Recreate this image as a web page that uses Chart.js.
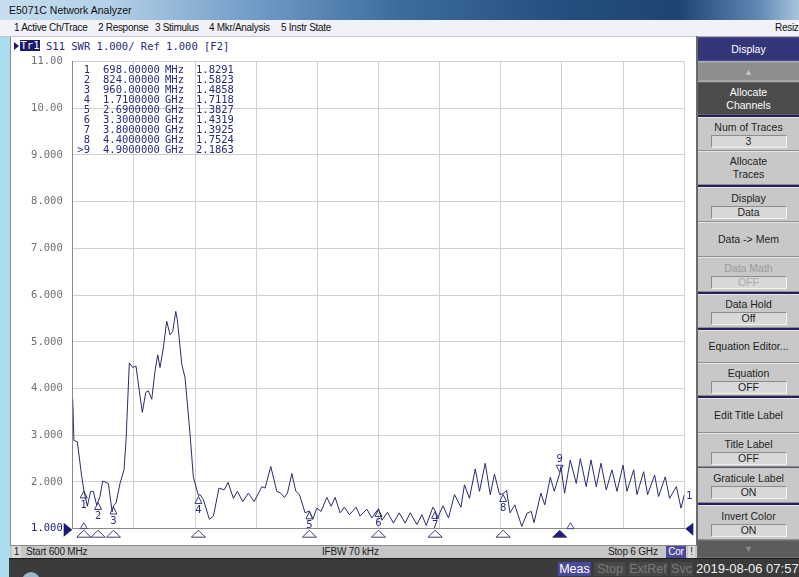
<!DOCTYPE html>
<html>
<head>
<meta charset="utf-8">
<script src="https://cdn.jsdelivr.net/npm/chart.js@4.4.0/dist/chart.umd.min.js"></script>
<style>
  body { margin: 0; width: 799px; height: 577px; overflow: hidden; position: relative;
         background: #a9dcee; font-family: "Liberation Sans", Arial, sans-serif; }
  .abs { position: absolute; white-space: nowrap; }
  #titlebar { left: 0; top: 0; width: 799px; height: 20px;
    background: linear-gradient(90deg, #c6deef 0%, #b4cfe7 14%, #6f9bc6 32%, #3d6c9c 50%, #244f7e 70%, #1d4573 85%, #5f8ab4 95%, #a9c5df 100%);
    font-size: 10.5px; line-height: 20px; color: #111; }
  #menubar { left: 0; top: 20px; width: 799px; height: 16px; background: #f1f2f7;
    border-bottom: 1px solid #c4c7d0; font-size: 10px; letter-spacing: -0.3px; line-height: 16px; color: #111; }
  #chartwin { left: 10px; top: 37px; width: 686px; height: 508px; background: #fff;
    border-left: 1px solid #8e8e8e; }
  #chartbox { left: 12px; top: 36px; width: 684px; height: 509px; }
  #hdr { font-family: "DejaVu Sans Mono", monospace; font-size: 10.5px; color: #2a2a7c; }
  #status { left: 10px; top: 545px; width: 687px; height: 12px; background: #c6c6c6;
    border-top: 1px solid #8a8a8a; font-size: 10px; letter-spacing: -0.2px; line-height: 12px; color: #1c1c1c; }
  #bottombar { left: 9px; top: 558px; width: 790px; height: 19px; background: #3b3b3b;
    border-top: 1px solid #1e1e1e; }
  .sk { position: absolute; left: 698px; width: 101px; background: #c8c8c8; box-sizing: border-box;
    border-top: 1px solid #e6e6e6; border-bottom: 1px solid #8e8e8e; text-align: center;
    font-size: 10.5px; color: #1e1e1e; line-height: 13px; }
  .sk .v { margin: 1px auto 0; width: 74px; height: 11px; line-height: 11px; background: #d8d8d8;
    border: 1px solid; border-color: #8c8c8c #f2f2f2 #f2f2f2 #8c8c8c; }
  .sep { position: absolute; left: 698px; width: 101px; height: 2px; background: #23235a; }
</style>
</head>
<body>
<div id="titlebar" class="abs"><span style="position:absolute;left:9px">E5071C Network Analyzer</span></div>
<div id="menubar" class="abs">
  <span class="abs" style="left:14px">1 Active Ch/Trace</span>
  <span class="abs" style="left:98px">2 Response</span>
  <span class="abs" style="left:155px">3 Stimulus</span>
  <span class="abs" style="left:209px">4 Mkr/Analysis</span>
  <span class="abs" style="left:281px">5 Instr State</span>
  <span class="abs" style="left:775px">Resize</span>
</div>
<div id="chartwin" class="abs"></div>

<div id="hdr" class="abs" style="left:13px;top:40px;height:12px;line-height:12px">
  <span class="abs" style="left:1px;top:2px;width:0;height:0;border-top:4px solid transparent;border-bottom:4px solid transparent;border-left:5px solid #1c1c6e"></span>
  <span class="abs" style="left:7px;top:0;width:20px;height:11px;background:#1c1c6e;color:#fff;text-align:center;line-height:11px">Tr1</span>
  <span class="abs" style="left:33px;top:0">S11 SWR 1.000/ Ref 1.000 [F2]</span>
</div>

<div id="chartbox" class="abs"><canvas id="plot"></canvas></div>

<!-- softkey panel -->
<div class="abs" style="left:696px;top:36px;width:103px;height:522px;background:#a8a8a8;border-left:2px solid #6a6a6a;box-sizing:border-box"></div>
<div class="sk" style="top:37px;height:24px;line-height:22px;background:#35357a;color:#fff;border-color:#4a4a90 #1e1e50">Display</div>
<div class="sk" style="top:62px;height:19px;background:#8e8e8e;border-color:#a4a4a4 #707070;color:#c4c4c4;font-size:9px;line-height:18px">&#9650;</div>
<div class="sk" style="top:82px;height:33px;padding-top:3px;background:#4c4c4c;color:#fff;border-color:#666 #333">Allocate<br>Channels</div>
<div class="sep" style="top:115px"></div>
<div class="sk" style="top:117px;height:34px;padding-top:3px">Num of Traces<div class="v">3</div></div>
<div class="sk" style="top:151px;height:34px;padding-top:3px">Allocate<br>Traces</div>
<div class="sep" style="top:185px"></div>
<div class="sk" style="top:187px;height:35px;padding-top:4px">Display<div class="v">Data</div></div>
<div class="sk" style="top:222px;height:35px;line-height:33px">Data -&gt; Mem</div>
<div class="sk" style="top:257px;height:35px;padding-top:4px;color:#9a9a9a">Data Math<div class="v" style="color:#a8a8a8">OFF</div></div>
<div class="sep" style="top:292px"></div>
<div class="sk" style="top:294px;height:34px;padding-top:3px">Data Hold<div class="v">Off</div></div>
<div class="sep" style="top:328px"></div>
<div class="sk" style="top:330px;height:33px;line-height:31px">Equation Editor...</div>
<div class="sk" style="top:363px;height:33px;padding-top:3px">Equation<div class="v">OFF</div></div>
<div class="sep" style="top:396px"></div>
<div class="sk" style="top:398px;height:35px;line-height:33px">Edit Title Label</div>
<div class="sk" style="top:433px;height:34px;padding-top:4px">Title Label<div class="v">OFF</div></div>
<div class="sk" style="top:467px;height:36px;padding-top:4px;border-top:1px solid #55556a">Graticule Label<div class="v">ON</div></div>
<div class="sep" style="top:503px"></div>
<div class="sk" style="top:505px;height:35px;padding-top:4px">Invert Color<div class="v">ON</div></div>
<div class="sk" style="top:540px;height:18px;background:#5c5c5c;border-color:#707070 #444;color:#8a8a8a;font-size:9px;line-height:17px">&#9660;</div>

<!-- status bar -->
<div id="status" class="abs">
  <span class="abs" style="left:2px;top:0;width:9px;height:12px;background:#d9d9d9;text-align:center">1</span>
  <span class="abs" style="left:16px">Start 600 MHz</span>
  <span class="abs" style="left:312px">IFBW 70 kHz</span>
  <span class="abs" style="left:598px">Stop 6 GHz</span>
  <span class="abs" style="left:656px;top:0;width:20px;height:12px;background:#4b4b96;color:#fff;text-align:center">Cor</span>
  <span class="abs" style="left:678px;top:0;width:7px;height:12px;background:#dcdcdc;text-align:center">!</span>
</div>

<div id="bottombar" class="abs">
  <div class="abs" style="left:13px;top:13px;width:18px;height:18px;border-radius:50%;background:#9cb9cc"></div>
  <span class="abs" style="left:549px;top:3px;width:33px;height:14px;background:#4a4a9c;color:#fff;font-size:12.5px;line-height:14px;text-align:center">Meas</span>
  <span class="abs" style="left:585px;top:3px;width:32px;height:14px;background:#474747;color:#7a7a7a;font-size:12.5px;line-height:14px;text-align:center">Stop</span>
  <span class="abs" style="left:619px;top:3px;width:40px;height:14px;background:#474747;color:#7a7a7a;font-size:12.5px;line-height:14px;text-align:center">ExtRef</span>
  <span class="abs" style="left:661px;top:3px;width:23px;height:14px;background:#474747;color:#7a7a7a;font-size:12.5px;line-height:14px;text-align:center">Svc</span>
  <span class="abs" style="left:687px;top:2px;color:#f0f0f0;font-size:13px;line-height:16px">2019-08-06 07:57</span>
</div>

<script>
// S11 SWR trace, frequency in MHz
const freqMHz = [600, 611, 641, 680, 698, 729, 759, 782, 812, 824, 841, 865, 915, 948, 960, 983,
  1018, 1053, 1071, 1100, 1130, 1159, 1188, 1215, 1245, 1268, 1298, 1327, 1351, 1371, 1400, 1430,
  1460, 1483, 1510, 1524, 1563, 1592, 1636, 1665, 1710, 1725, 1754, 1807, 1842, 1892, 1937, 1972,
  2019, 2054, 2102, 2151, 2202, 2270, 2299, 2349, 2402, 2437, 2469, 2496, 2535, 2570, 2602, 2652,
  2690, 2720, 2755, 2793, 2844, 2882, 2917, 2961, 2999, 3043, 3103, 3138, 3197, 3241, 3300, 3330,
  3379, 3432, 3483, 3535, 3580, 3639, 3683, 3721, 3780, 3800, 3816, 3869, 3918, 3971, 4028, 4059,
  4103, 4154, 4192, 4242, 4287, 4324, 4369, 4400, 4431, 4461, 4503, 4565, 4611, 4649, 4673, 4734,
  4768, 4817, 4852, 4900, 4911, 4943, 4993, 5046, 5082, 5134, 5176, 5223, 5264, 5311, 5361, 5406,
  5459, 5494, 5553, 5582, 5641, 5676, 5738, 5773, 5832, 5870, 5930, 5971, 6000];
const swr = [3.77, 2.89, 2.86, 2.11, 1.83, 1.48, 1.80, 1.80, 1.50, 1.58, 1.69, 2.02, 1.97, 1.36, 1.49, 1.55,
  1.97, 2.26, 2.89, 4.55, 4.45, 4.48, 3.95, 3.49, 3.92, 3.95, 3.77, 4.38, 4.72, 4.45, 4.87, 5.44,
  5.15, 5.22, 5.65, 5.47, 4.52, 4.23, 3.03, 2.11, 1.71, 1.73, 1.62, 1.20, 1.27, 1.87, 1.83, 1.99,
  1.65, 1.80, 1.58, 1.76, 1.58, 1.90, 1.87, 2.33, 1.80, 1.76, 1.67, 1.76, 2.18, 1.80, 1.73, 1.34,
  1.38, 1.20, 1.44, 1.37, 1.67, 1.48, 1.67, 1.34, 1.46, 1.30, 1.46, 1.27, 1.42, 1.23, 1.43, 1.18,
  1.35, 1.12, 1.34, 1.12, 1.34, 1.09, 1.30, 1.07, 1.46, 1.39, 1.20, 1.49, 1.23, 1.73, 1.46, 1.94,
  1.65, 2.28, 1.80, 2.40, 1.73, 2.17, 1.73, 1.75, 1.82, 1.34, 1.51, 1.05, 1.33, 1.37, 1.13, 1.76,
  1.51, 2.10, 1.80, 2.19, 2.33, 1.76, 2.47, 1.97, 2.50, 1.90, 2.47, 1.90, 2.40, 1.83, 2.26, 1.80,
  2.36, 1.80, 2.26, 1.73, 2.22, 1.73, 2.15, 1.69, 2.11, 1.65, 1.90, 1.44, 1.73];

// markers
const markerNames = ["1", "2", "3", "4", "5", "6", "7", "8", ">9"];
const markerFreqMHz = [698, 824, 960, 1710, 2690, 3300, 3800, 4400, 4900];
const markerSWR = [1.8291, 1.5823, 1.4858, 1.7118, 1.3827, 1.4319, 1.3925, 1.7524, 2.1863];
const activeMarker = 8;
const smallTriMHz = [698, 4995];

// axes
const xGridMHz = [600, 1140, 1680, 2220, 2760, 3300, 3840, 4380, 4920, 5460, 6000];
const yMin = 1, yMax = 11, yStep = 1;

const navy = "#2a2a7c";
const traceColor = "#2b2b6e";
const ORG_X = 12, ORG_Y = 36; // canvas origin on the page

function fmtFreq(f) {
  return f < 1000 ? f.toFixed(5) + " MHz" : (f / 1000).toFixed(7) + " GHz";
}

function tri(ctx, cx, tipY, w, h, up, fill) {
  ctx.beginPath();
  if (up) {
    ctx.moveTo(cx, tipY); ctx.lineTo(cx - w / 2, tipY + h); ctx.lineTo(cx + w / 2, tipY + h);
  } else {
    ctx.moveTo(cx, tipY); ctx.lineTo(cx - w / 2, tipY - h); ctx.lineTo(cx + w / 2, tipY - h);
  }
  ctx.closePath();
  if (fill) { ctx.fillStyle = fill; ctx.fill(); }
  ctx.stroke();
}

const overlay = {
  id: "overlay",
  afterDraw(chart) {
    const ctx = chart.ctx;
    const xs = chart.scales.x, ys = chart.scales.y, a = chart.chartArea;
    ctx.save();

    // marker table
    ctx.font = "10.5px 'DejaVu Sans Mono', monospace";
    ctx.fillStyle = navy;
    ctx.textBaseline = "middle";
    for (let i = 0; i < markerNames.length; i++) {
      const y = 70 - ORG_Y + i * 10;
      const ft = fmtFreq(markerFreqMHz[i]).split(" ");
      ctx.textAlign = "right";
      ctx.fillText(markerNames[i], 90 - ORG_X, y);
      ctx.textAlign = "left";
      ctx.fillText(ft[0], 103 - ORG_X, y);
      ctx.fillText(ft[1], 165 - ORG_X, y);
      ctx.fillText(markerSWR[i].toFixed(4), 196 - ORG_X, y);
    }

    // markers on the trace
    ctx.strokeStyle = "#3a3a7a";
    ctx.lineWidth = 1;
    ctx.font = "10px 'DejaVu Sans', sans-serif";
    ctx.textAlign = "center";
    for (let i = 0; i < markerFreqMHz.length; i++) {
      const px = xs.getPixelForValue(markerFreqMHz[i]);
      const py = ys.getPixelForValue(markerSWR[i]);
      const label = String(i + 1);
      if (i === activeMarker) {
        tri(ctx, px, py - 1, 7, 7, false, null);
        ctx.fillStyle = navy;
        ctx.fillText(label, px, py - 14);
      } else {
        tri(ctx, px, py + 1, 7, 7, true, null);
        ctx.fillStyle = navy;
        ctx.fillText(label, px, py + 15);
      }
      // markers in the strip under the grid
      tri(ctx, px, a.bottom + 1.5, 14, 7, true, i === activeMarker ? "#1e1e78" : null);
    }

    // small stimulus triangles on the bottom line
    ctx.strokeStyle = "#4a4a80";
    for (const f of smallTriMHz) {
      tri(ctx, xs.getPixelForValue(f), a.bottom - 6, 7, 6, true, null);
    }

    // reference level pointers
    const yRef = ys.getPixelForValue(yMin);
    ctx.fillStyle = "#1a1a78";
    ctx.beginPath();
    ctx.moveTo(a.left - 0.5, yRef + 1); ctx.lineTo(a.left - 9, yRef - 6); ctx.lineTo(a.left - 9, yRef + 8);
    ctx.closePath(); ctx.fill();
    ctx.beginPath();
    ctx.moveTo(a.right + 1, yRef); ctx.lineTo(a.right + 9, yRef - 6); ctx.lineTo(a.right + 9, yRef + 7);
    ctx.closePath(); ctx.fill();

    // trace number at the right end
    ctx.fillStyle = navy;
    ctx.textAlign = "left";
    ctx.fillText("1", a.right + 2, ys.getPixelForValue(swr[swr.length - 1]) + 2);
    ctx.restore();
  }
};

new Chart(document.getElementById("plot"), {
  type: "line",
  data: {
    datasets: [{
      label: "S11 SWR",
      data: freqMHz.map((f, i) => ({ x: f, y: swr[i] })),
      borderColor: traceColor,
      borderWidth: 1,
      pointRadius: 0,
      tension: 0,
      fill: false
    }]
  },
  options: {
    responsive: true,
    maintainAspectRatio: false,
    animation: false,
    layout: { padding: { left: 0, top: 25.5, right: 11.7, bottom: 0 } },
    plugins: {
      legend: { display: false },
      tooltip: { enabled: false },
      title: { display: false }
    },
    scales: {
      x: {
        type: "linear",
        min: xGridMHz[0],
        max: xGridMHz[xGridMHz.length - 1],
        afterBuildTicks: (s) => { s.ticks = xGridMHz.map((v) => ({ value: v })); },
        afterFit: (s) => { s.height = 12.5; },
        ticks: { display: false },
        grid: { color: "#d0d0d0", drawTicks: false },
        border: { color: "#8a8a8a" }
      },
      y: {
        min: yMin,
        max: yMax,
        afterFit: (s) => { s.width = 60.7; },
        ticks: {
          stepSize: yStep,
          padding: 10,
          color: (c) => (c.tick.value === yMin ? "#222288" : "#707070"),
          font: { family: "'DejaVu Sans Mono', monospace", size: 10.5 },
          callback: (v) => (v >= 10 ? v.toFixed(2) : v.toFixed(3))
        },
        grid: { color: "#d0d0d0", drawTicks: false },
        border: { color: "#8a8a8a" }
      }
    }
  },
  plugins: [overlay]
});
</script>
</body>
</html>
